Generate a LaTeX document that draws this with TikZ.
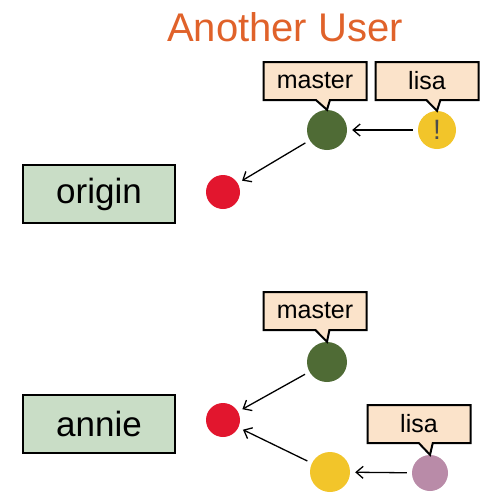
\documentclass[tikz,border=0pt]{standalone}
\usepackage{fontspec}
\setmainfont{Liberation Sans}
\usetikzlibrary{arrows.meta,shapes.callouts}
\definecolor{titleorange}{HTML}{E0622A}
\definecolor{repogreen}{HTML}{C9DDC6}
\definecolor{tagpeach}{HTML}{FBE3CA}
\definecolor{cgreen}{HTML}{4F6B35}
\definecolor{cred}{HTML}{E2162E}
\definecolor{cyellow}{HTML}{F2C52A}
\definecolor{cpurple}{HTML}{B98BA8}
\tikzset{
  commit/.style={circle,inner sep=0pt,minimum size=#1},
  repo/.style={draw,line width=2.5pt,fill=repogreen,minimum width=152pt,
    minimum height=58pt,inner sep=0pt,font=\fontsize{35}{40}\selectfont},
  tag/.style={rectangle callout,draw,line width=2pt,fill=tagpeach,
    minimum width=103pt,minimum height=38pt,inner sep=0pt,
    callout pointer width=14pt,font=\fontsize{25}{28}\selectfont},
  arr/.style={line width=1.3pt,-{Straight Barb[length=7pt,width=12pt]},
    shorten >=5pt,shorten <=5pt}
}
\begin{document}
\begin{tikzpicture}[x=1pt,y=-1pt]
  \useasboundingbox (0,0) rectangle (497,504);
  \node[text=titleorange,font=\fontsize{40}{46}\selectfont] (title) at (285,27) {Another User};
  % another user
  \node[repo] (origin) at (99,194) {origin};
  \node[commit=34pt,fill=cred] (ro) at (223,192) {};
  \node[commit=40pt,fill=cgreen] (go) at (327,130) {};
  \node[commit=38pt,fill=cyellow,text=black!70,font=\fontsize{28}{30}\selectfont] (yo) at (437,130) {!};
  \node[tag,callout absolute pointer={(go.north)}] (mo) at (315,81) {master};
  \node[tag,callout absolute pointer={(yo.north)}] (lo) at (427,81) {lisa};
  \draw[arr] (yo) -- (go);
  \draw[arr] (go) -- (ro);
  % annie
  \node[repo] (annie) at (99,424) {annie};
  \node[commit=34pt,fill=cred] (rb) at (223,420) {};
  \node[commit=40pt,fill=cgreen] (gb) at (327,362) {};
  \node[commit=40pt,fill=cyellow] (yb) at (330,472) {};
  \node[commit=36pt,fill=cpurple] (pb) at (430,473) {};
  \node[tag,callout absolute pointer={(gb.north)}] (mb) at (315,311) {master};
  \node[tag,callout absolute pointer={(pb.north)}] (lb) at (419,424) {lisa};
  \draw[arr] (gb) -- (rb);
  \draw[arr] (yb) -- (rb);
  \draw[arr] (pb) -- (yb);
\end{tikzpicture}
\end{document}
